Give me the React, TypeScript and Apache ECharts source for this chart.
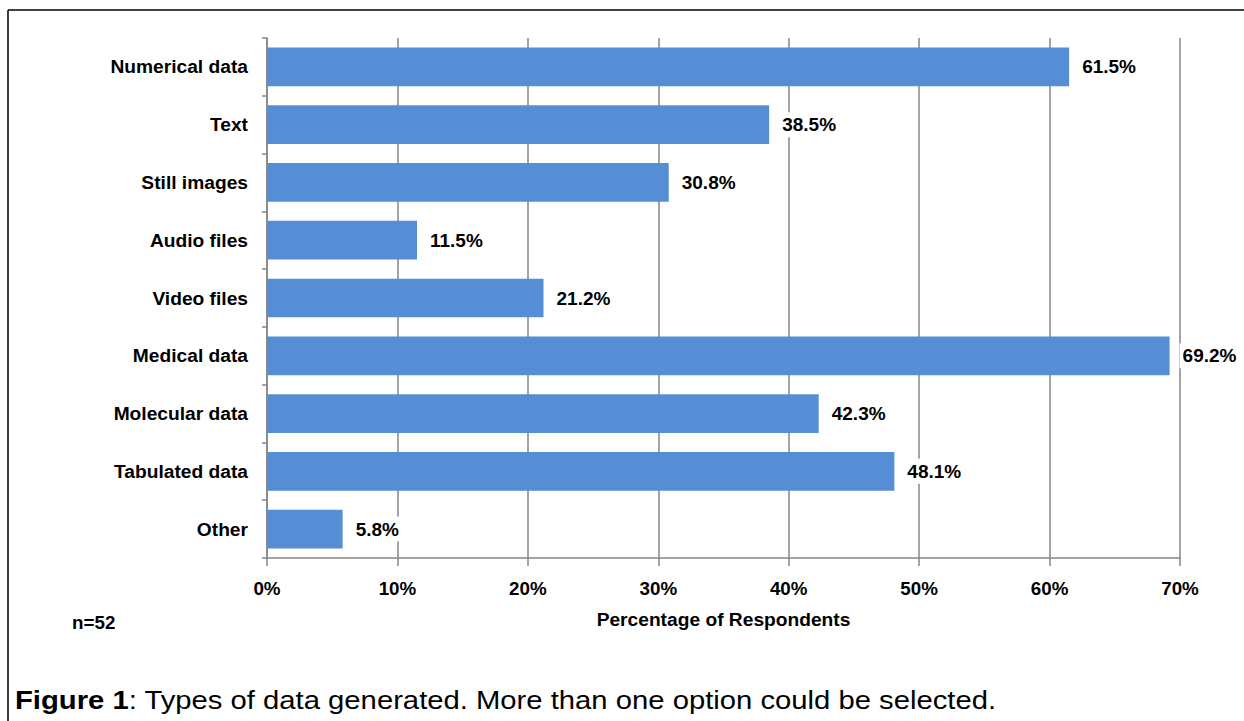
import React, { useEffect, useRef } from "react";
import * as echarts from "echarts";

const categories = [
  "Numerical data",
  "Text",
  "Still images",
  "Audio files",
  "Video files",
  "Medical data",
  "Molecular data",
  "Tabulated data",
  "Other",
];
const values = [61.5, 38.5, 30.8, 11.5, 21.2, 69.2, 42.3, 48.1, 5.8];
const xTicks = [0, 10, 20, 30, 40, 50, 60, 70];

const FONT = "Liberation Sans, Arial, Helvetica, sans-serif";

export default function App() {
  const ref = useRef<HTMLDivElement>(null);
  useEffect(() => {
    document.body.style.margin = "0";
    const chart = echarts.init(ref.current!, null, { renderer: "svg" });
    chart.setOption({
      animation: false,
      backgroundColor: "#ffffff",
      textStyle: { fontFamily: FONT },
      grid: { left: 267, right: 64, top: 38, bottom: 163, containLabel: false },
      xAxis: {
        type: "value",
        min: xTicks[0],
        max: xTicks[xTicks.length - 1],
        interval: 10,
        name: "Percentage of Respondents",
        nameLocation: "middle",
        nameGap: 52,
        nameTextStyle: { fontFamily: FONT, fontWeight: "bold", fontSize: 19.2, color: "#000" },
        axisLine: { show: true, lineStyle: { color: "#868686", width: 1.5 } },
        axisTick: { show: true, length: 8, lineStyle: { color: "#868686", width: 1.5 } },
        axisLabel: {
          formatter: (v: number) => `${v}%`,
          fontFamily: FONT,
          fontWeight: "bold",
          fontSize: 18.8,
          color: "#000",
          margin: 21,
        },
        splitLine: { show: true, lineStyle: { color: "#868686", width: 1.5 } },
      },
      yAxis: {
        type: "category",
        data: categories,
        inverse: true,
        axisLine: { show: true, lineStyle: { color: "#868686", width: 1.5 } },
        axisTick: { show: true, length: 5, lineStyle: { color: "#868686", width: 1.5 } },
        axisLabel: {
          fontFamily: FONT,
          fontWeight: "bold",
          fontSize: 19.2,
          color: "#000",
          margin: 19,
        },
      },
      series: [
        {
          type: "bar",
          data: values,
          barCategoryGap: "33%",
          itemStyle: { color: "#558ED5" },
          label: {
            show: true,
            position: "right",
            distance: 10,
            formatter: (p: any) => `${p.value.toFixed(1)}%`,
            fontFamily: FONT,
            fontWeight: "bold",
            fontSize: 19,
            color: "#000",
            backgroundColor: "#ffffff",
            padding: [3, 3],
          },
        },
      ],
      graphic: [
        { type: "line", shape: { x1: 8, y1: 10, x2: 1244, y2: 10 }, style: { stroke: "#000", lineWidth: 1.5 } },
        { type: "line", shape: { x1: 8, y1: 10, x2: 8, y2: 721 }, style: { stroke: "#000", lineWidth: 1.5 } },
        {
          type: "text",
          x: 72,
          y: 622,
          style: {
            text: "n=52",
            fontFamily: FONT,
            fontWeight: "bold",
            fontSize: 18.8,
            fill: "#000",
            verticalAlign: "middle",
            textAlign: "left",
          },
        },
        {
          type: "text",
          x: 15,
          y: 700,
          scaleX: 1.125,
          style: {
            text: "{b|Figure 1}{n|: Types of data generated. More than one option could be selected.}",
            fontFamily: FONT,
            fontSize: 26,
            fill: "#000",
            verticalAlign: "middle",
            textAlign: "left",
            rich: {
              b: { fontFamily: FONT, fontSize: 26, fontWeight: "bold", fill: "#000" },
              n: { fontFamily: FONT, fontSize: 26, fill: "#000" },
            },
          },
        },
      ],
    });
    return () => chart.dispose();
  }, []);
  return (
    <div
      ref={ref}
      style={{ position: "fixed", left: 0, top: 0, width: 1244, height: 721 }}
    />
  );
}
